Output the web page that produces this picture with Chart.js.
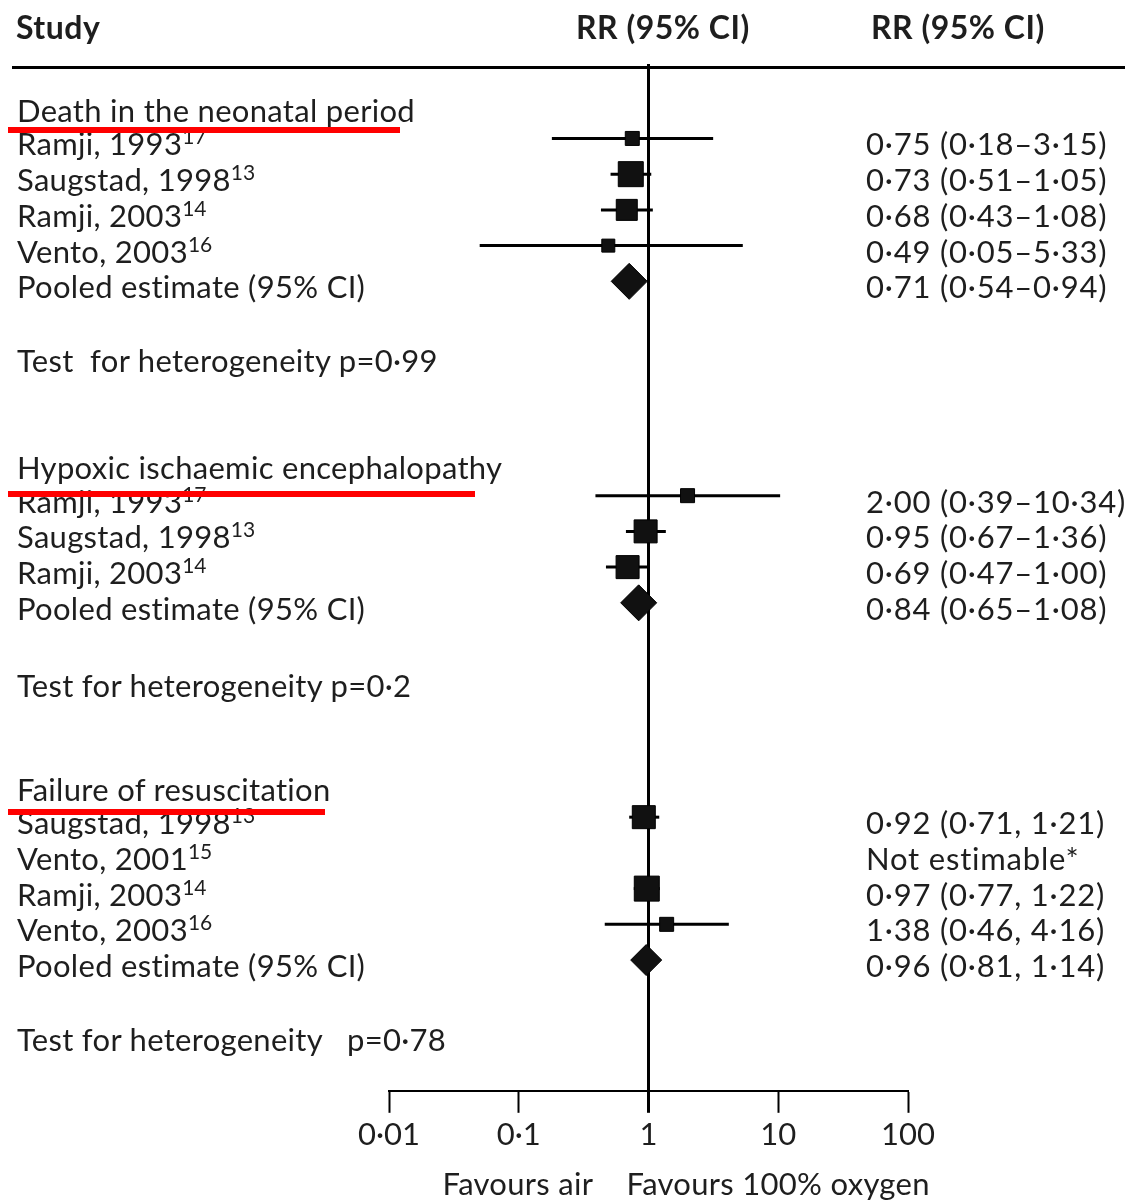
<!DOCTYPE html>
<html>
<head>
<meta charset="utf-8">
<script src="https://cdn.jsdelivr.net/npm/chart.js@4.4.1/dist/chart.umd.min.js"></script>
<style>
  body { margin: 0; background: #fff; }
  #wrap { position: relative; width: 1130px; height: 1203px; overflow: hidden;
          font-family: Lato, "Open Sans", sans-serif; color: #1e1e1e; }
  #plot { position: absolute; left: 0; top: 0; }
  .t { position: absolute; white-space: nowrap; font-size: 31px; line-height: 36px; letter-spacing: 0.3px; }
  .t .sup { font-size: 21px; position: relative; top: -11px; letter-spacing: 0; }
  .num { letter-spacing: 0.8px; }
  .hd { font-weight: 700; font-size: 32px; letter-spacing: 0.5px; }
  .rule { position: absolute; background: #000; }
  .red { position: absolute; background: #ff0000; }
</style>
</head>
<body>
<div id="wrap">
  <canvas id="plot" width="1130" height="1203"></canvas>
</div>
<script>
// --- data ---
const groupNames = ['Death in the neonatal period', 'Hypoxic ischaemic encephalopathy', 'Failure of resuscitation'];
const groupRows = [-0.8, 9.2, 18.2];
const hetTexts = ['Test\u00a0 for heterogeneity p=0\u00b799', 'Test for heterogeneity p=0\u00b72', 'Test for heterogeneity \u00a0 p=0\u00b778'];
const hetRows = [6.2, 15.3, 25.2];

const studyNames = [
  'Ramji, 1993', 'Saugstad, 1998', 'Ramji, 2003', 'Vento, 2003', 'Pooled estimate (95% CI)',
  'Ramji, 1993', 'Saugstad, 1998', 'Ramji, 2003', 'Pooled estimate (95% CI)',
  'Saugstad, 1998', 'Vento, 2001', 'Ramji, 2003', 'Vento, 2003', 'Pooled estimate (95% CI)',
];
const studyRefs = ['17', '13', '14', '16', '', '17', '13', '14', '', '13', '15', '14', '16', ''];
const studyRows = [0, 1, 2, 3, 4, 10, 11, 12, 13, 19, 20, 21, 22, 23];
const pooled = [false, false, false, false, true, false, false, false, true, false, false, false, false, true];
const rr = [0.75, 0.73, 0.68, 0.49, 0.71, 2.00, 0.95, 0.69, 0.84, 0.92, null, 0.97, 1.38, 0.96];
const ciLow = [0.18, 0.51, 0.43, 0.05, 0.54, 0.39, 0.67, 0.47, 0.65, 0.71, null, 0.77, 0.46, 0.81];
const ciHigh = [3.15, 1.05, 1.08, 5.33, 0.94, 10.34, 1.36, 1.00, 1.08, 1.21, null, 1.22, 4.16, 1.14];
const rrLabels = [
  '0\u00b775 (0\u00b718\u20133\u00b715)', '0\u00b773 (0\u00b751\u20131\u00b705)', '0\u00b768 (0\u00b743\u20131\u00b708)',
  '0\u00b749 (0\u00b705\u20135\u00b733)', '0\u00b771 (0\u00b754\u20130\u00b794)',
  '2\u00b700 (0\u00b739\u201310\u00b734)', '0\u00b795 (0\u00b767\u20131\u00b736)', '0\u00b769 (0\u00b747\u20131\u00b700)',
  '0\u00b784 (0\u00b765\u20131\u00b708)',
  '0\u00b792 (0\u00b771, 1\u00b721)', 'Not estimable*', '0\u00b797 (0\u00b777, 1\u00b722)',
  '1\u00b738 (0\u00b746, 4\u00b716)', '0\u00b796 (0\u00b781, 1\u00b714)',
];
const tickValues = [0.01, 0.1, 1, 10, 100];
const tickLabels = ['0\u00b701', '0\u00b71', '1', '10', '100'];

const boxSide = [14, 25, 21, 13, 36, 14, 23, 23, 36, 23, null, 25, 14, 31];
const redWidths = [392, 467, 317];

const wrap = document.getElementById('wrap');
function addText(cls, html, left, top) {
  const d = document.createElement('div');
  d.className = 't ' + cls;
  d.innerHTML = html;
  d.style.left = left + 'px';
  d.style.top = top + 'px';
  wrap.appendChild(d);
  return d;
}

// whiskers + line of no effect
const forestPlugin = {
  id: 'forest',
  beforeDatasetsDraw(chart) {
    const { ctx, chartArea, scales } = chart;
    const x = scales.x, y = scales.y;
    ctx.save();
    ctx.strokeStyle = '#000';
    ctx.lineWidth = 3;
    ctx.beginPath();
    ctx.moveTo(x.getPixelForValue(1), chartArea.top - 3);
    ctx.lineTo(x.getPixelForValue(1), chartArea.bottom);
    ctx.stroke();
    studyRows.forEach((row, i) => {
      if (rr[i] == null || pooled[i]) return;
      const py = y.getPixelForValue(row);
      ctx.beginPath();
      ctx.moveTo(x.getPixelForValue(ciLow[i]), py);
      ctx.lineTo(x.getPixelForValue(ciHigh[i]), py);
      ctx.stroke();
    });
    ctx.restore();
  },
};

const pts = [];
studyRows.forEach((row, i) => {
  if (rr[i] != null) pts.push({ x: rr[i], y: row, i });
});

const chart = new Chart(document.getElementById('plot'), {
  type: 'scatter',
  data: {
    datasets: [{
      data: pts,
      backgroundColor: '#111',
      borderColor: '#000',
      borderWidth: 1,
      pointStyle: pts.map((p) => (pooled[p.i] ? 'rectRot' : 'rect')),
      pointRadius: pts.map((p) => (pooled[p.i] ? boxSide[p.i] / 2 : boxSide[p.i] / Math.SQRT2)),
      clip: false,
    }],
  },
  plugins: [forestPlugin],
  options: {
    responsive: false,
    animation: false,
    events: [],
    layout: { padding: { left: 389, right: 222, top: 67, bottom: 45 } },
    plugins: { legend: { display: false }, tooltip: { enabled: false } },
    scales: {
      x: {
        type: 'logarithmic',
        min: 0.01,
        max: 100,
        afterBuildTicks: (s) => { s.ticks = tickValues.map((v) => ({ value: v })); },
        ticks: {
          callback: (v) => tickLabels[tickValues.indexOf(v)],
          font: { family: 'Lato', size: 31 },
          color: '#1e1e1e',
          padding: 4,
          maxRotation: 0,
          autoSkip: false,
        },
        grid: {
          drawOnChartArea: false,
          tickLength: 22,
          tickColor: '#000',
          tickWidth: (c) => (c.tick && c.tick.value === 1 ? 3 : 2),
        },
        border: { display: true, color: '#000', width: 2 },
      },
      y: { type: 'linear', min: -2, max: 26.66, reverse: true, display: false },
    },
  },
});

// --- text, placed from the chart's own y scale ---
const ys = chart.scales.y;
const xs = chart.scales.x;
addText('hd', 'Study', 16, 9);
addText('hd', 'RR (95% CI)', 576, 9);
addText('hd', 'RR (95% CI)', 871, 9);
const hr = document.createElement('div');
hr.className = 'rule';
hr.style.cssText = 'left:12px;top:66px;width:1113px;height:3px';
wrap.appendChild(hr);

groupNames.forEach((g, k) => {
  const py = ys.getPixelForValue(groupRows[k]);
  addText('', g, 17, py - 18);
});
studyNames.forEach((s, i) => {
  const py = ys.getPixelForValue(studyRows[i]);
  const sup = studyRefs[i] ? '<span class="sup">' + studyRefs[i] + '</span>' : '';
  addText('', s + sup, 17, py - 13);
  addText('num', rrLabels[i], 866, py - 13);
});
hetTexts.forEach((h, k) => {
  addText('', h, 17, ys.getPixelForValue(hetRows[k]) - 18);
});
groupRows.forEach((r, k) => {
  const red = document.createElement('div');
  red.className = 'red';
  const py = ys.getPixelForValue(studyRows[[0, 5, 9][k]]);
  red.style.cssText = `left:8px;top:${py - [11, 5, 8][k]}px;width:${redWidths[k]}px;height:6px`;
  wrap.appendChild(red);
});
const x1 = xs.getPixelForValue(1);
const fa = addText('', 'Favours air', 0, 1165);
fa.style.left = (x1 - 55 - fa.offsetWidth) + 'px';
addText('', 'Favours 100% oxygen', x1 - 22, 1165);
</script>
</body>
</html>
